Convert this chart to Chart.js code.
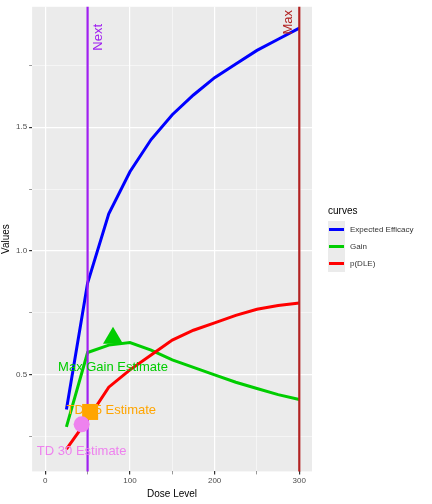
<!DOCTYPE html><html><head><script src="https://cdn.jsdelivr.net/npm/chart.js@4"></script>
<style>body{margin:0;background:#fff;font-family:"Liberation Sans",Arial,sans-serif}#w{position:relative;width:432px;height:504px}
#lg{position:absolute;left:328px;top:205px;font-size:8px;color:#333}#lg .t{font-size:10px;margin-bottom:5px;color:#000}
.it{display:flex;align-items:center;height:17px}.sw{width:17px;height:17px;background:#ebebeb;margin-right:5px;position:relative}.sw i{position:absolute;left:1px;right:1px;top:7px;height:3px}</style></head>
<body><div id="w"><canvas id="c" width="432" height="504"></canvas>
<div id="lg"><div class="t">curves</div>
<div class="it"><div class="sw"><i style="background:#0000ff"></i></div>Expected Efficacy</div>
<div class="it"><div class="sw"><i style="background:#00cd00"></i></div>Gain</div>
<div class="it"><div class="sw"><i style="background:#ff0000"></i></div>p(DLE)</div></div></div>
<script>
const doses=[25,50,75,100,125,150,175,200,225,250,275,300];
const efficacy=[0.36,0.87,1.15,1.32,1.45,1.55,1.63,1.70,1.755,1.81,1.855,1.90];
const gain=[0.29,0.59,0.62,0.63,0.60,0.56,0.53,0.50,0.47,0.445,0.42,0.40];
const pDLE=[0.20,0.32,0.45,0.52,0.58,0.64,0.68,0.71,0.74,0.765,0.78,0.79];
const xTicks=[0,50,100,150,200,250,300];
const yTicks=[0.25,0.5,0.75,1.0,1.25,1.5,1.75];
const nextDose=50, maxDose=300;
const maxGain={x:80,y:0.65}, td35={x:53,y:0.35}, td30={x:43,y:0.30};
const pts=(ys)=>doses.map((d,i)=>({x:d,y:ys[i]}));
const bg={id:'bg',beforeDraw(c){const a=c.chartArea,x=c.ctx;x.save();x.fillStyle='#ebebeb';x.fillRect(a.left,a.top,a.width,a.height);x.restore();}};
const ann={id:'ann',afterDatasetsDraw(c){const x=c.ctx,sx=c.scales.x,sy=c.scales.y,a=c.chartArea;x.save();
 function vl(v,col){x.strokeStyle=col;x.lineWidth=2.2;x.beginPath();x.moveTo(sx.getPixelForValue(v),a.top);x.lineTo(sx.getPixelForValue(v),a.bottom);x.stroke();}
 vl(nextDose,'#a020f0');vl(maxDose,'#b22222');
 x.font='13px "Liberation Sans",Arial';
 function vt(v,t,col,dx,ty,align){x.save();x.fillStyle=col;x.translate(sx.getPixelForValue(v)+dx,ty);x.rotate(-Math.PI/2);x.textAlign=align;x.textBaseline='middle';x.fillText(t,0,0);x.restore();}
 vt(nextDose,'Next','#a020f0',11,24,'right');vt(maxDose,'Max','#b22222',-11,10,'right');
 // markers
 let px=sx.getPixelForValue(maxGain.x),py=sy.getPixelForValue(maxGain.y);x.fillStyle='#00cd00';x.beginPath();x.moveTo(px,py-11);x.lineTo(px+10,py+6);x.lineTo(px-10,py+6);x.closePath();x.fill();
 px=sx.getPixelForValue(td35.x);py=sy.getPixelForValue(td35.y);x.fillStyle='#ffa500';x.fillRect(px-8,py-8,16,16);
 px=sx.getPixelForValue(td30.x);py=sy.getPixelForValue(td30.y);x.fillStyle='#ee82ee';x.beginPath();x.arc(px,py,8,0,7);x.fill();
 x.textAlign='center';x.textBaseline='middle';
 x.fillStyle='#00cd00';x.fillText('Max Gain Estimate',sx.getPixelForValue(80),sy.getPixelForValue(0.53));
 x.fillStyle='#ffa500';x.fillText('TD 35 Estimate',sx.getPixelForValue(78),sy.getPixelForValue(0.355));
 x.fillStyle='#ee82ee';x.fillText('TD 30 Estimate',sx.getPixelForValue(43),sy.getPixelForValue(0.19));
 x.restore();}};
const ds=(l,ys,col)=>({label:l,data:pts(ys),borderColor:col,borderWidth:3,pointRadius:0,fill:false,tension:0});
new Chart(document.getElementById('c'),{type:'line',data:{datasets:[ds('p(DLE)',pDLE,'#ff0000'),ds('Gain',gain,'#00cd00'),ds('Expected Efficacy',efficacy,'#0000ff')]},
options:{responsive:false,animation:false,layout:{padding:{top:5,right:120,left:0,bottom:0}},plugins:{legend:{display:false},tooltip:{enabled:false}},
scales:{x:{type:'linear',min:-15.5,max:315,afterBuildTicks(s){s.ticks=xTicks.map(v=>({value:v}));},
 grid:{color:'#fff',lineWidth:(c)=>c.tick&&c.tick.value%100===0?1.2:0.5,drawTicks:true,tickLength:3,tickColor:'#333'},border:{display:false},
 ticks:{color:'#4d4d4d',font:{size:8},maxRotation:0,padding:2,autoSkip:false,callback:(v)=>v%100===0?String(v):''},
 title:{display:true,text:'Dose Level',color:'#000',font:{size:10},padding:{top:0,bottom:4}}},
 y:{type:'linear',min:0.11,max:1.986,afterBuildTicks(s){s.ticks=yTicks.map(v=>({value:v}));},
 grid:{color:'#fff',lineWidth:(c)=>c.tick&&Math.abs(c.tick.value*2-Math.round(c.tick.value*2))<1e-6?1.2:0.5,tickLength:3,tickColor:'#333'},border:{display:false},
 ticks:{color:'#4d4d4d',font:{size:8},padding:2,autoSkip:false,callback:(v)=>Math.abs(v*2-Math.round(v*2))<1e-6?v.toFixed(1):''},
 title:{display:true,text:'Values',color:'#000',font:{size:10},padding:{top:0,bottom:2}}}}},plugins:[bg,ann]});
</script></body></html>
